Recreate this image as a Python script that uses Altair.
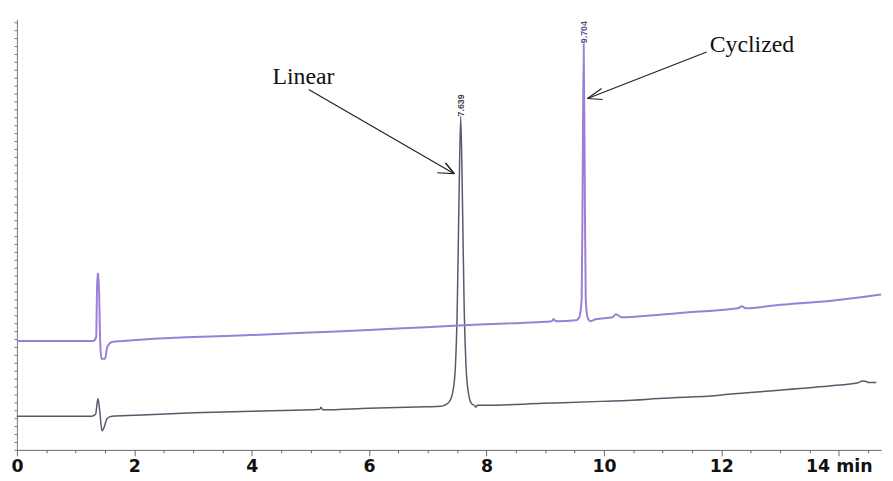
import altair as alt
import pandas as pd

# ---- data (time in min, signal in arbitrary units) ----
t_linear = [0.0, 0.52, 1.03, 1.27, 1.34, 1.38, 1.41, 1.45, 1.48, 1.54, 1.62, 2.02, 3.01, 4.0,
            4.99, 5.16, 5.18, 5.21, 5.99, 6.97, 7.22, 7.28, 7.37, 7.43, 7.47, 7.50, 7.53,
            7.56, 7.59, 7.62, 7.65, 7.69, 7.74, 7.79, 7.82, 7.84, 7.97, 8.96, 9.94, 10.71,
            10.94, 11.93, 12.28, 12.93, 13.91, 14.31, 14.41, 14.47, 14.51, 14.64]
s_linear = [34, 34, 34, 34, 36, 52, 40, 19, 22, 32, 34, 35, 37.5, 39,
            40.5, 41, 43, 40.5, 42, 43.5, 44, 45, 49, 60, 85, 140, 250,
            337, 250, 140, 85, 58, 47, 45, 43, 45, 45, 47, 49, 51,
            52, 55, 57, 60, 65, 67.5, 69.5, 69, 68, 68]

t_cyclized = [0.0, 0.52, 1.03, 1.30, 1.35, 1.37, 1.39, 1.42, 1.44, 1.50, 1.54, 1.62, 1.81,
              2.28, 3.01, 4.0, 4.99, 5.99, 6.97, 7.97, 8.86, 9.11, 9.14, 9.18, 9.53, 9.58,
              9.62, 9.635, 9.655, 9.675, 9.69, 9.72, 9.77, 9.86, 10.15, 10.20, 10.30, 10.84,
              11.44, 12.28, 12.35, 12.41, 12.93, 13.91, 14.41, 14.72]
s_cyclized = [110, 110, 110, 110, 114, 178, 178, 107, 92, 92, 104, 109, 110,
              112, 114, 116, 118.5, 121, 124, 127, 129, 130, 132, 130, 131, 134,
              152, 252, 410, 252, 152, 134, 130, 132, 134, 137, 134, 136,
              139, 143, 145, 143, 146, 151, 154.5, 157]

peak_text = ["7.639", "9.704"]
peak_t = [7.56, 9.655]
peak_s = [348, 422]

note_text = ["Linear", "Cyclized"]
note_t = [4.88, 12.52]
note_s = [377, 409]

# arrow shafts and open heads (from, to)
arrow_t1 = [4.97, 7.45, 7.30, 7.45, 11.75, 9.72, 9.72]
arrow_s1 = [364, 279, 290, 279, 402, 355, 355]
arrow_t2 = [7.45, 7.30, 7.45, 7.16, 9.72, 9.96, 9.98]
arrow_s2 = [279, 290, 279, 280, 355, 365, 354]

x_ticks = [i * 0.5 for i in range(30)]
y_ticks = list(range(0, 436, 8))

# ---- tables ----
lin = pd.DataFrame({"t": t_linear, "s": s_linear})
cyc = pd.DataFrame({"t": t_cyclized, "s": s_cyclized})
peaks = pd.DataFrame({"t": peak_t, "s": peak_s, "label": peak_text, "trace": ["Linear", "Cyclized"]})
notes = pd.DataFrame({"t": note_t, "s": note_s, "label": note_text})
arrows = pd.DataFrame({"t": arrow_t1, "s": arrow_s1, "t2": arrow_t2, "s2": arrow_s2})

xscale = alt.Scale(domain=[0, 14.72], nice=False, zero=False)
yscale = alt.Scale(domain=[0, 435], nice=False, zero=False)

x_axis = alt.Axis(values=x_ticks,
                  labelExpr="datum.value === 14 ? '14 min' : (datum.value % 2 === 0 ? datum.value : '')",
                  labelFont="DejaVu Sans", labelFontWeight="bold", labelFontSize=17.5,
                  labelColor="#111", labelPadding=2, labelFlush=False, labelOverlap=False,
                  tickSize={"condition": {"test": "datum.value % 2 === 0", "value": 6}, "value": 3},
                  tickColor="#666", domainColor="#666", grid=False, title=None)
y_axis = alt.Axis(values=y_ticks, labels=False, tickSize=3, tickColor="#777",
                  domainColor="#777", grid=False, title=None)

X = alt.X("t:Q", scale=xscale, axis=x_axis)
Y = alt.Y("s:Q", scale=yscale, axis=y_axis)

line_lin = alt.Chart(lin).mark_line(color="#535b6c", strokeWidth=1.5, interpolate="monotone").encode(x=X, y=Y)
line_cyc = alt.Chart(cyc).mark_line(color="#9a7fd6", strokeWidth=2, interpolate="monotone").encode(x=X, y=Y)

peak_lbl = alt.Chart(peaks).mark_text(angle=270, fontSize=9, font="Liberation Sans", fontWeight="bold",
                                      align="center", baseline="middle").encode(
    x=X, y=Y, text="label:N",
    color=alt.Color("trace:N", scale=alt.Scale(domain=["Linear", "Cyclized"],
                                               range=["#3d4454", "#5b4a8a"]), legend=None))

note_lbl = alt.Chart(notes).mark_text(font="Liberation Serif", fontSize=24, color="#111",
                                      align="center", baseline="middle").encode(x=X, y=Y, text="label:N")

arrow_lines = alt.Chart(arrows).mark_rule(color="#222", strokeWidth=1.2).encode(
    x=X, y=Y, x2="t2:Q", y2="s2:Q")

chart = alt.layer(line_lin, line_cyc, peak_lbl, note_lbl, arrow_lines).properties(
    width=873, height=435,
    padding={"left": 2, "top": 9, "right": 0, "bottom": 0},
    background="white",
).configure_view(stroke=None)

chart.save("out.html", embed_options={"renderer": "svg", "actions": False})
